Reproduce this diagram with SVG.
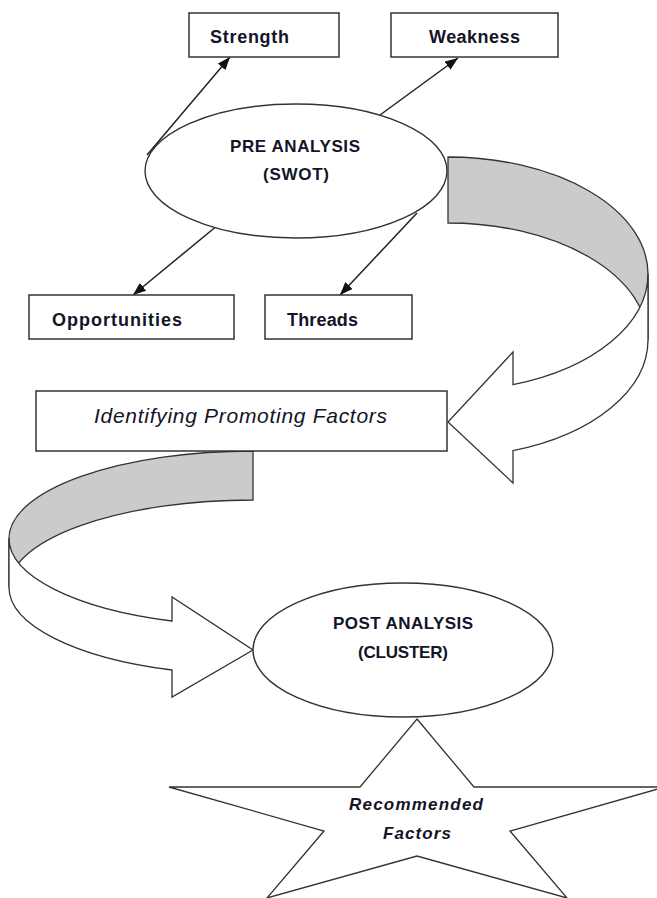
<svg xmlns="http://www.w3.org/2000/svg" width="657" height="898" viewBox="0 0 657 898">
<style>
.box{fill:#fff;stroke:#333;stroke-width:1.5}
.ell{fill:#fff;stroke:#333;stroke-width:1.4}
.band{fill:#cbcbcb;stroke:#333;stroke-width:1.3}
.front{fill:#fff;stroke:#333;stroke-width:1.3}
.con{stroke:#222;stroke-width:1.5;fill:none;marker-end:url(#ah)}
.t{font-family:"Liberation Sans",Arial,sans-serif;font-weight:bold;font-size:18px;fill:#141428}
.tp{font-family:"Liberation Sans",Arial,sans-serif;font-weight:bold;font-size:17px;fill:#141428}
.ti{font-family:"Liberation Sans",Arial,sans-serif;font-style:italic;font-size:21px;fill:#141428}
.tbi{font-family:"Liberation Sans",Arial,sans-serif;font-style:italic;font-weight:bold;font-size:17px;fill:#141428}
</style>
<defs>
<marker id="ah" markerUnits="userSpaceOnUse" markerWidth="14" markerHeight="10" refX="13" refY="5" orient="auto">
<path d="M0,0 L13,5 L0,10 z" fill="#111"/>
</marker>
</defs>
<g id="connectors">
<path class="band" d="M448,157 A200,117 0 0 1 648,274 L648,340 A200,117 0 0 0 448,223 Z"/>
<path class="front" d="M648,274 A200,117 0 0 1 513,384.6 L513,352 L448,422 L513,483 L513,450.6 A200,117 0 0 0 648,340 Z"/>
<path class="band" d="M253,451 A244,87.5 0 0 0 9,538.5 L9,587.5 A244,87.5 0 0 1 253,500 Z"/>
<path class="front" d="M9,538.5 A244,87.5 0 0 0 172,621 L172,597 L253,650 L172,697 L172,670 A244,87.5 0 0 1 9,587.5 Z"/>
<line class="con" x1="147" y1="155" x2="230" y2="57"/>
<line class="con" x1="380" y1="115" x2="458" y2="58"/>
<line class="con" x1="218" y1="225" x2="133" y2="295"/>
<line class="con" x1="417" y1="213" x2="340" y2="295"/>
</g>
<g id="strength">
<rect class="box" x="189" y="13" width="150" height="44"/>
<text class="t" x="210" y="43" textLength="79">Strength</text>
</g>
<g id="weakness">
<rect class="box" x="391" y="13" width="167" height="44"/>
<text class="t" x="429" y="43" textLength="91">Weakness</text>
</g>
<g id="pre-analysis">
<ellipse class="ell" cx="296" cy="171" rx="151" ry="67"/>
<text class="tp" x="230" y="152" textLength="130">PRE ANALYSIS</text>
<text class="tp" x="263" y="180" textLength="66">(SWOT)</text>
</g>
<g id="opportunities">
<rect class="box" x="29" y="295" width="205" height="44"/>
<text class="t" x="52" y="326" textLength="130">Opportunities</text>
</g>
<g id="threads">
<rect class="box" x="265" y="295" width="147" height="44"/>
<text class="t" x="287" y="326" textLength="71">Threads</text>
</g>
<g id="identifying">
<rect class="box" x="36" y="391" width="411" height="60"/>
<text class="ti" x="94" y="423" textLength="293">Identifying Promoting Factors</text>
</g>
<g id="post-analysis">
<ellipse class="ell" cx="403" cy="650" rx="150" ry="67"/>
<text class="tp" x="333" y="629" textLength="140">POST ANALYSIS</text>
<text class="tp" x="358" y="658" textLength="90">(CLUSTER)</text>
</g>
<g id="recommended">
<polygon class="front" points="417,719 474,787 665,787 510,831 567,898 417,856 267,898 324,831 169,787 360,787"/>
<text class="tbi" x="349" y="810" textLength="134">Recommended</text>
<text class="tbi" x="383" y="839" textLength="68">Factors</text>
</g>
</svg>
